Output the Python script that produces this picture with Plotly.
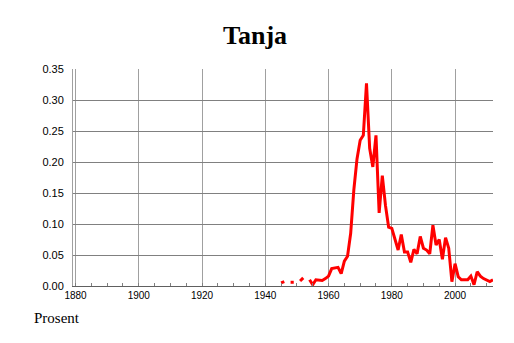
import plotly.graph_objects as go

years = list(range(1945, 2013))
values = [
    0.005, 0.007, None, 0.006, 0.006, None, 0.008, 0.013, None,   # 1945-1953
    0.010, 0.002, 0.010, 0.009, 0.009, 0.012, 0.016,              # 1954-1960
    0.028, 0.029, 0.030, 0.020, 0.040, 0.048, 0.085, 0.155,       # 1961-1968
    0.205, 0.235, 0.243, 0.327, 0.222, 0.192, 0.243, 0.118,       # 1969-1976
    0.178, 0.130, 0.095, 0.093, 0.076, 0.058, 0.083, 0.055,       # 1977-1984
    0.055, 0.038, 0.059, 0.052, 0.080, 0.061, 0.058, 0.052,       # 1985-1992
    0.098, 0.066, 0.075, 0.043, 0.078, 0.061, 0.007, 0.036,       # 1993-2000
    0.015, 0.010, 0.010, 0.010, 0.016, 0.002, 0.023, 0.016,       # 2001-2008
    0.012, 0.009, 0.007, 0.010                                    # 2009-2012
]
x_ticks = [1880, 1900, 1920, 1940, 1960, 1980, 2000]
y_ticks = [0.0, 0.05, 0.10, 0.15, 0.20, 0.25, 0.30, 0.35]
y_tick_labels = ["0.00", "0.05", "0.10", "0.15", "0.20", "0.25", "0.30", "0.35"]

fig = go.Figure()
fig.add_trace(go.Scatter(
    x=years, y=values, mode="lines",
    line=dict(color="#ff0000", width=3),
    connectgaps=False, hoverinfo="skip", showlegend=False,
))

fig.update_layout(
    width=514, height=343,
    margin=dict(l=73, r=21, t=69, b=57),
    paper_bgcolor="white", plot_bgcolor="white",
    showlegend=False,
    font=dict(family="Liberation Sans, Arial, sans-serif", color="black"),
)
fig.update_xaxes(
    range=[1879.2, 2012], tickvals=x_ticks, ticktext=[str(v) for v in x_ticks],
    showgrid=True, gridcolor="#a0a0a0", gridwidth=1,
    showline=True, linecolor="#606060", linewidth=1,
    ticks="", tickfont=dict(size=10),
    minor=dict(ticks="inside", ticklen=3, tick0=1880, dtick=5, tickcolor="#808080", showgrid=False),
    zeroline=False,
)
fig.update_yaxes(
    range=[0, 0.35], tickvals=y_ticks, ticktext=y_tick_labels,
    showgrid=True, gridcolor="#808080", gridwidth=1,
    showline=True, linecolor="#a0a0a0", linewidth=1,
    ticks="", tickfont=dict(size=11), ticklabelstandoff=6,
    zeroline=False,
)
fig.add_annotation(text="<b>Tanja</b>", xref="paper", yref="paper",
                   x=(255 - 73) / 420, y=(286 - 35) / 217,
                   yanchor="middle", xanchor="center", showarrow=False,
                   font=dict(family="Liberation Serif, Times New Roman, serif", size=26))
fig.add_annotation(text="Prosent", xref="paper", yref="paper",
                   x=(32 - 73) / 420, y=(286 - 318) / 217,
                   xanchor="left", yanchor="middle", showarrow=False,
                   font=dict(family="Liberation Serif, Times New Roman, serif", size=15))
fig.write_html("out.html")
